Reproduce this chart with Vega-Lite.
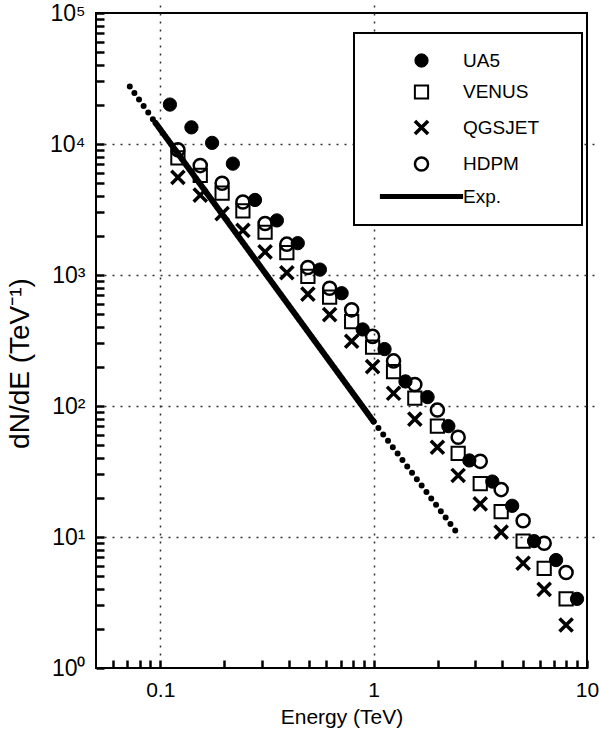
{
  "$schema": "https://vega.github.io/schema/vega-lite/v6.json",
  "autosize": {"type": "none"},
  "padding": {"left": 96, "top": 13, "right": 12, "bottom": 69},
  "width": 491,
  "height": 655,
  "background": "white",
  "config": {
    "font": "Liberation Sans",
    "view": {"stroke": "black", "strokeWidth": 2},
    "axis": {
      "domain": false,
      "ticks": true,
      "tickColor": "black",
      "tickOpacity": 1,
      "tickWidth": 2.5,
      "tickSize": 8,
      "offset": -8,
      "zindex": 2,
      "labelColor": "black",
      "labelFont": "Liberation Sans",
      "titleFont": "Liberation Sans",
      "titleColor": "black",
      "titleFontWeight": "normal",
      "gridColor": "#333333",
      "gridWidth": 1.5,
      "gridDash": [2, 6]
    },
    "legend": {"strokeWidth": 2}
  },
  "datasets": {
    "points": [
      {"series": "UA5", "E": 0.111, "N": 20000},
      {"series": "UA5", "E": 0.140, "N": 13400},
      {"series": "UA5", "E": 0.175, "N": 10200},
      {"series": "UA5", "E": 0.219, "N": 7080},
      {"series": "UA5", "E": 0.278, "N": 3740},
      {"series": "UA5", "E": 0.352, "N": 2610},
      {"series": "UA5", "E": 0.441, "N": 1750},
      {"series": "UA5", "E": 0.560, "N": 1100},
      {"series": "UA5", "E": 0.708, "N": 726},
      {"series": "UA5", "E": 0.889, "N": 384},
      {"series": "UA5", "E": 1.125, "N": 272},
      {"series": "UA5", "E": 1.41, "N": 154},
      {"series": "UA5", "E": 1.79, "N": 117},
      {"series": "UA5", "E": 2.24, "N": 70.2},
      {"series": "UA5", "E": 2.81, "N": 38.4},
      {"series": "UA5", "E": 3.60, "N": 26.5},
      {"series": "UA5", "E": 4.46, "N": 17.3},
      {"series": "UA5", "E": 5.65, "N": 9.3},
      {"series": "UA5", "E": 7.16, "N": 6.67},
      {"series": "UA5", "E": 8.98, "N": 3.37},
      {"series": "VENUS", "E": 0.121, "N": 7850},
      {"series": "VENUS", "E": 0.154, "N": 5760},
      {"series": "VENUS", "E": 0.195, "N": 4220},
      {"series": "VENUS", "E": 0.244, "N": 3090},
      {"series": "VENUS", "E": 0.310, "N": 2120},
      {"series": "VENUS", "E": 0.392, "N": 1480},
      {"series": "VENUS", "E": 0.492, "N": 975},
      {"series": "VENUS", "E": 0.622, "N": 678},
      {"series": "VENUS", "E": 0.789, "N": 440},
      {"series": "VENUS", "E": 0.989, "N": 281},
      {"series": "VENUS", "E": 1.24, "N": 183},
      {"series": "VENUS", "E": 1.56, "N": 115},
      {"series": "VENUS", "E": 1.99, "N": 70.2},
      {"series": "VENUS", "E": 2.49, "N": 43.5},
      {"series": "VENUS", "E": 3.16, "N": 25.6},
      {"series": "VENUS", "E": 3.96, "N": 15.6},
      {"series": "VENUS", "E": 5.02, "N": 9.3},
      {"series": "VENUS", "E": 6.30, "N": 5.75},
      {"series": "VENUS", "E": 7.98, "N": 3.37},
      {"series": "QGSJET", "E": 0.121, "N": 5560},
      {"series": "QGSJET", "E": 0.154, "N": 4070},
      {"series": "QGSJET", "E": 0.195, "N": 2940},
      {"series": "QGSJET", "E": 0.244, "N": 2190},
      {"series": "QGSJET", "E": 0.310, "N": 1500},
      {"series": "QGSJET", "E": 0.392, "N": 1040},
      {"series": "QGSJET", "E": 0.492, "N": 715},
      {"series": "QGSJET", "E": 0.622, "N": 498},
      {"series": "QGSJET", "E": 0.789, "N": 312},
      {"series": "QGSJET", "E": 0.989, "N": 200},
      {"series": "QGSJET", "E": 1.24, "N": 125},
      {"series": "QGSJET", "E": 1.56, "N": 79.4},
      {"series": "QGSJET", "E": 1.99, "N": 48.4},
      {"series": "QGSJET", "E": 2.49, "N": 29.5},
      {"series": "QGSJET", "E": 3.16, "N": 17.9},
      {"series": "QGSJET", "E": 3.96, "N": 10.9},
      {"series": "QGSJET", "E": 5.02, "N": 6.31},
      {"series": "QGSJET", "E": 6.30, "N": 3.98},
      {"series": "QGSJET", "E": 7.98, "N": 2.13},
      {"series": "HDPM", "E": 0.121, "N": 9020},
      {"series": "HDPM", "E": 0.154, "N": 6840},
      {"series": "HDPM", "E": 0.195, "N": 5010},
      {"series": "HDPM", "E": 0.244, "N": 3610},
      {"series": "HDPM", "E": 0.310, "N": 2470},
      {"series": "HDPM", "E": 0.392, "N": 1720},
      {"series": "HDPM", "E": 0.492, "N": 1140},
      {"series": "HDPM", "E": 0.622, "N": 792},
      {"series": "HDPM", "E": 0.789, "N": 542},
      {"series": "HDPM", "E": 0.989, "N": 340},
      {"series": "HDPM", "E": 1.24, "N": 221},
      {"series": "HDPM", "E": 1.56, "N": 146},
      {"series": "HDPM", "E": 1.99, "N": 93.1},
      {"series": "HDPM", "E": 2.49, "N": 57.8},
      {"series": "HDPM", "E": 3.16, "N": 37.8},
      {"series": "HDPM", "E": 3.96, "N": 23.0},
      {"series": "HDPM", "E": 5.02, "N": 13.3},
      {"series": "HDPM", "E": 6.30, "N": 8.95},
      {"series": "HDPM", "E": 7.98, "N": 5.35}
    ],
    "exp": [
      {"seg": "a", "style": "dotted", "E": 0.072, "N": 27500},
      {"seg": "a", "style": "dotted", "E": 0.095, "N": 14500},
      {"seg": "b", "style": "solid", "E": 0.095, "N": 14500},
      {"seg": "b", "style": "solid", "E": 1.0, "N": 76},
      {"seg": "c", "style": "dotted", "E": 1.0, "N": 76},
      {"seg": "c", "style": "dotted", "E": 2.5, "N": 10.4}
    ]
  },
  "encoding": {
    "x": {
      "field": "E",
      "type": "quantitative",
      "title": "Energy (TeV)",
      "scale": {"type": "log", "domain": [0.05, 10], "nice": false},
      "axis": {
        "values": [0.06, 0.07, 0.08, 0.09, 0.1, 0.2, 0.3, 0.4, 0.5, 0.6, 0.7, 0.8, 0.9, 1, 2, 3, 4, 5, 6, 7, 8, 9, 10],
        "labelExpr": "datum.value == 0.1 ? '0.1' : datum.value == 1 ? '1' : datum.value == 10 ? '10' : ''",
        "labelFlush": false,
        "labelFontSize": 21,
        "labelPadding": 11,
        "labelOverlap": false,
        "grid": true,
        "gridOpacity": {"condition": {"test": "datum.value == 0.1 || datum.value == 1", "value": 1}, "value": 0},
        "titleFontSize": 21,
        "titleBaseline": "middle",
        "titleY": 57
      }
    },
    "y": {
      "field": "N",
      "type": "quantitative",
      "title": "dN/dE (TeV⁻¹)",
      "scale": {"type": "log", "domain": [1, 100000], "nice": false},
      "axis": {
        "values": [1, 2, 3, 4, 5, 6, 7, 8, 9, 10, 20, 30, 40, 50, 60, 70, 80, 90, 100, 200, 300, 400, 500, 600, 700, 800, 900, 1000, 2000, 3000, 4000, 5000, 6000, 7000, 8000, 9000, 10000, 20000, 30000, 40000, 50000, 60000, 70000, 80000, 90000, 100000],
        "labelExpr": "datum.value == 1 ? '10⁰' : datum.value == 10 ? '10¹' : datum.value == 100 ? '10²' : datum.value == 1000 ? '10³' : datum.value == 10000 ? '10⁴' : datum.value == 100000 ? '10⁵' : ''",
        "labelFontSize": 23,
        "labelPadding": 11,
        "labelOverlap": false,
        "labelFlush": false,
        "grid": true,
        "gridOpacity": {"condition": {"test": "datum.value == 10 || datum.value == 100 || datum.value == 1000 || datum.value == 10000", "value": 1}, "value": 0},
        "titleFontSize": 28,
        "titleBaseline": "middle",
        "titleX": -84,
        "titleY": 350
      }
    }
  },
  "layer": [
    {
      "data": {"name": "exp"},
      "mark": {"type": "line", "color": "black", "strokeWidth": 6, "strokeCap": "round"},
      "encoding": {
        "detail": {"field": "seg", "type": "nominal"},
        "strokeDash": {
          "field": "style",
          "type": "nominal",
          "scale": {"domain": ["solid", "dotted"], "range": [[1, 0], [0, 8]]},
          "legend": null
        }
      }
    },
    {
      "data": {"name": "points"},
      "mark": {"type": "point", "opacity": 1, "stroke": "black"},
      "encoding": {
        "shape": {
          "field": "series",
          "type": "nominal",
          "scale": {
            "domain": ["UA5", "VENUS", "QGSJET", "HDPM", "Exp."],
            "range": ["circle", "square", "M-1,-1L1,1M-1,1L1,-1", "circle", "M-6.4,0L6.4,0"]
          },
          "legend": {
            "title": "MMM", "titleOrient": "right", "titleFontSize": 10, "titleColor": "transparent", "titlePadding": 0,
            "orient": "none", "legendX": 258, "legendY": 20,
            "padding": 18, "rowPadding": 9.5, "symbolOffset": 40, "labelOffset": 32,
            "labelFontSize": 19, "labelFont": "Liberation Sans", "labelColor": "black",
            "strokeColor": "black", "fillColor": "white"
          }
        },
        "fill": {
          "field": "series",
          "type": "nominal",
          "scale": {"domain": ["UA5", "VENUS", "QGSJET", "HDPM", "Exp."], "range": ["black", "transparent", "transparent", "transparent", "transparent"]},
          "legend": {
            "title": "MMM", "titleOrient": "right", "titleFontSize": 10, "titleColor": "transparent", "titlePadding": 0,
            "orient": "none", "legendX": 258, "legendY": 20,
            "padding": 18, "rowPadding": 9.5, "symbolOffset": 40, "labelOffset": 32,
            "labelFontSize": 19, "labelFont": "Liberation Sans", "labelColor": "black",
            "strokeColor": "black", "fillColor": "white"
          }
        },
        "size": {
          "field": "series",
          "type": "ordinal",
          "scale": {"domain": ["UA5", "VENUS", "QGSJET", "HDPM", "Exp."], "range": [177, 169, 169, 113, 169]},
          "legend": {
            "title": "MMM", "titleOrient": "right", "titleFontSize": 10, "titleColor": "transparent", "titlePadding": 0,
            "orient": "none", "legendX": 258, "legendY": 20,
            "padding": 18, "rowPadding": 9.5, "symbolOffset": 40, "labelOffset": 32,
            "labelFontSize": 19, "labelFont": "Liberation Sans", "labelColor": "black",
            "strokeColor": "black", "fillColor": "white"
          }
        },
        "strokeWidth": {
          "field": "series",
          "type": "ordinal",
          "scale": {"type": "ordinal", "domain": ["UA5", "VENUS", "QGSJET", "HDPM", "Exp."], "range": [1, 2, 3.5, 2.5, 5]},
          "legend": {
            "title": "MMM", "titleOrient": "right", "titleFontSize": 10, "titleColor": "transparent", "titlePadding": 0,
            "orient": "none", "legendX": 258, "legendY": 20,
            "padding": 18, "rowPadding": 9.5, "symbolOffset": 40, "labelOffset": 32,
            "labelFontSize": 19, "labelFont": "Liberation Sans", "labelColor": "black",
            "strokeColor": "black", "fillColor": "white"
          }
        }
      }
    }
  ]
}
